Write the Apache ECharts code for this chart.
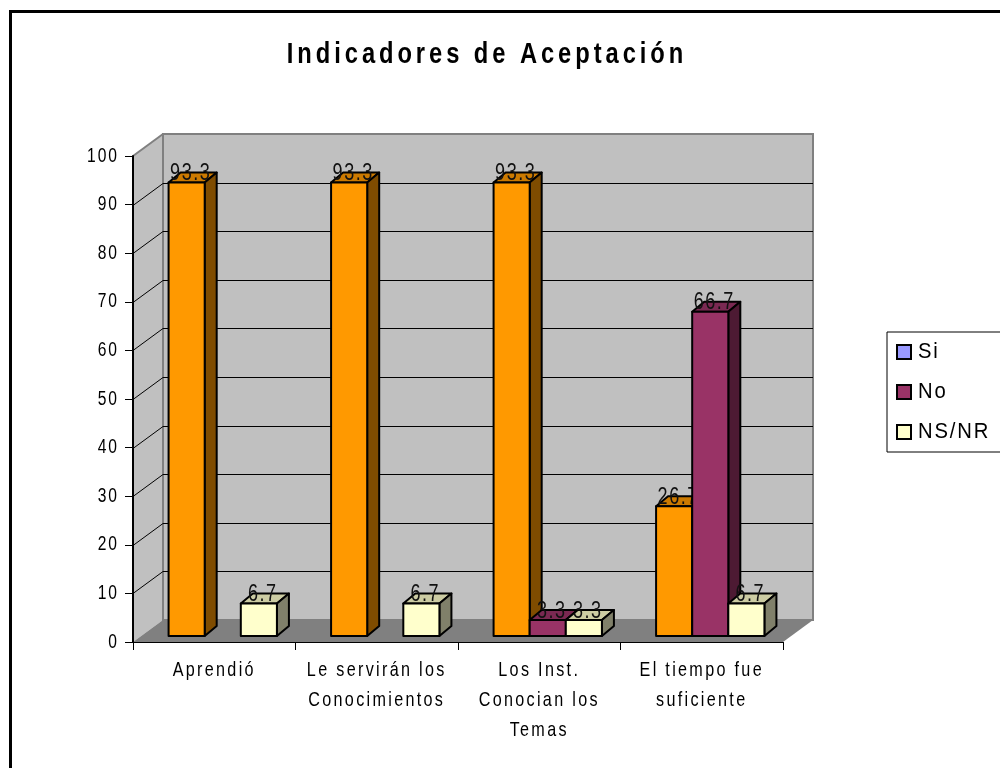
<!DOCTYPE html>
<html>
<head>
<meta charset="utf-8">
<title>Indicadores de Aceptación</title>
<script src="https://cdn.jsdelivr.net/npm/echarts@6/dist/echarts.min.js"></script>
<style>
    html, body { margin: 0; padding: 0; background: #fff; overflow: hidden; }
    #main { width: 1000px; height: 768px; }
</style>
</head>
<body>
<div id="main"></div>
<script>
var categories = ['Aprendió', 'Le servirán los\nConocimientos', 'Los Inst.\nConocian los\nTemas', 'El tiempo fue\nsuficiente'];
var seriesNames = ['Si', 'No', 'NS/NR'];
var siValues = [93.3, 93.3, 93.3, 26.7];
var noValues = [null, null, 3.3, 66.7];
var nsnrValues = [6.7, 6.7, 3.3, 6.7];
var yTicks = [0, 10, 20, 30, 40, 50, 60, 70, 80, 90, 100];

var FONT = '"Liberation Sans", Arial, sans-serif';

// the original text is tall, squeezed and widely tracked, echarts has no option for that
// font size -> [letter spacing, horizontal scale]
var textFit = {20: [2.5, 0.78], 21: [3, 0.77], 22: [2, 0.92], 24: [2, 0.75], 30: [5, 0.79]};
var origFillText = CanvasRenderingContext2D.prototype.fillText;
CanvasRenderingContext2D.prototype.fillText = function (text, x, y) {
    var size = parseInt(this.font.match(/(\d+)px/)[1], 10);
    var fit = textFit[size] || [0, 1];
    this.save();
    this.letterSpacing = fit[0] + 'px';
    this.translate(x, y);
    this.scale(fit[1], 1);
    origFillText.call(this, text, 0, 0);
    this.restore();
};

var faces = [
    {front: '#FF9900', top: '#CC7A00', side: '#7F4C00'},
    {front: '#993366', top: '#7A2952', side: '#4D1A33'},
    {front: '#FFFFCC', top: '#CCCCA3', side: '#80806A'}
];
var WALL_DX = 30, WALL_DY = 22;   // depth of the 3d box
var BAR_DX = 8.5, BAR_DY = 6;     // bars stand a bit inside the floor
var DEPTH_DX = 12, DEPTH_DY = 10; // depth of one bar

function crisp(v) {
    return Math.round(v) + 0.5;
}

function renderWall(params, api) {
    var band = api.size([1, 0])[0];
    var tick = api.value(0);
    var first = api.coord([0, 0]);
    var last = api.coord([categories.length - 1, 100]);
    var x0 = first[0] - band / 2, x1 = last[0] + band / 2;
    var yBottom = first[1], yTop = last[1];
    var children = [];

    if (params.dataIndex === 0) {
        children.push({type: 'polygon', shape: {points: [
            [x0, yTop], [x0 + WALL_DX, yTop - WALL_DY], [x0 + WALL_DX, yBottom - WALL_DY], [x0, yBottom]
        ]}, style: {fill: '#C0C0C0', stroke: null}});
        children.push({type: 'rect', shape: {
            x: x0 + WALL_DX, y: yTop - WALL_DY, width: x1 - x0, height: yBottom - yTop
        }, style: {fill: '#C0C0C0', stroke: '#808080', lineWidth: 2}});
        children.push({type: 'polyline', shape: {points: [
            [x0, yTop], [x0 + WALL_DX, yTop - WALL_DY]
        ]}, style: {fill: null, stroke: '#808080', lineWidth: 2}});
        children.push({type: 'polygon', shape: {points: [
            [x0, yBottom], [x1, yBottom], [x1 + WALL_DX, yBottom - WALL_DY], [x0 + WALL_DX, yBottom - WALL_DY]
        ]}, style: {fill: '#808080', stroke: null}});
    }
    if (tick > 0 && tick < 100) {
        var y = api.coord([0, tick])[1];
        children.push({type: 'polyline', shape: {points: [
            [x0, crisp(y)], [x0 + WALL_DX, crisp(y - WALL_DY)], [x1 + WALL_DX, crisp(y - WALL_DY)]
        ]}, style: {fill: null, stroke: '#000', lineWidth: 1}});
    }
    return {type: 'group', children: children};
}

function renderBar(params, api) {
    var value = api.value(1);
    if (!(value > 0)) {
        return null;
    }
    var band = api.size([1, 0])[0];
    var w = band / 4.5;
    var idx = params.seriesIndex - 1;
    var base = api.coord([api.value(0), 0]);
    var top = api.coord([api.value(0), value]);
    var l = base[0] - 1.5 * w + idx * w + BAR_DX;
    var r = l + w;
    var t = top[1] - BAR_DY;
    var b = base[1] - BAR_DY;
    var face = faces[idx];
    var line = {stroke: '#000', lineWidth: 2, lineJoin: 'round'};
    return {type: 'group', children: [
        {type: 'polygon', shape: {points: [
            [l, t], [l + DEPTH_DX, t - DEPTH_DY], [r + DEPTH_DX, t - DEPTH_DY], [r, t]
        ]}, style: Object.assign({fill: face.top}, line)},
        {type: 'polygon', shape: {points: [
            [r, t], [r + DEPTH_DX, t - DEPTH_DY], [r + DEPTH_DX, b - DEPTH_DY], [r, b]
        ]}, style: Object.assign({fill: face.side}, line)},
        {type: 'rect', shape: {x: l, y: t, width: w, height: b - t},
            style: Object.assign({fill: face.front}, line)},
        {type: 'text', style: {
            x: (l + r) / 2 + 4, y: t + 3, text: String(value),
            fill: '#111', font: '24px ' + FONT, align: 'center', verticalAlign: 'bottom'
        }}
    ]};
}

function barSeries(i, values, legendColor) {
    return {
        name: seriesNames[i],
        type: 'custom',
        renderItem: renderBar,
        itemStyle: {color: legendColor},
        data: values.map(function (v, k) { return [k, v]; })
    };
}

var chart = echarts.init(document.getElementById('main'), null, {renderer: 'canvas'});
var option = {
    animation: false,
    backgroundColor: '#fff',
    title: {
        text: 'Indicadores de Aceptación',
        left: 482, top: 35, textAlign: 'center',
        textStyle: {fontFamily: FONT, fontSize: 30, fontWeight: 'bold', color: '#000'}
    },
    graphic: [{
        type: 'rect', left: 8, top: 9, silent: true, z: -1,
        shape: {width: 1100, height: 900},
        style: {fill: null, stroke: '#000', lineWidth: 3}
    }],
    legend: {
        data: seriesNames,
        orient: 'vertical',
        left: 887, top: 332,
        padding: [9, 60, 9, 9],
        itemWidth: 14, itemHeight: 14, itemGap: 18,
        icon: 'rect',
        backgroundColor: '#fff',
        borderColor: '#000', borderWidth: 1, borderRadius: 0,
        selectedMode: false,
        itemStyle: {borderColor: '#000', borderWidth: 2},
        textStyle: {fontFamily: FONT, fontSize: 22, color: '#000', padding: [0, 0, 0, 2]}
    },
    grid: {left: 133, top: 156, width: 650, height: 486, containLabel: false},
    xAxis: {
        type: 'category',
        data: categories,
        z: 10,
        axisLine: {lineStyle: {color: '#000', width: 1}},
        axisTick: {show: true, length: 8, lineStyle: {color: '#000'}},
        axisLabel: {interval: 0, margin: 13, lineHeight: 30, fontFamily: FONT, fontSize: 21, color: '#000'}
    },
    yAxis: {
        type: 'value',
        min: 0, max: 100, interval: 10,
        z: 10,
        axisLine: {show: true, lineStyle: {color: '#000', width: 2}},
        axisTick: {show: true, length: 8, lineStyle: {color: '#000'}},
        splitLine: {show: false},
        axisLabel: {margin: 14, fontFamily: FONT, fontSize: 20, color: '#000'}
    },
    series: [
        {
            type: 'custom',
            name: 'paredes',
            renderItem: renderWall,
            data: yTicks.map(function (t) { return [t]; }),
            encode: {x: -1, y: -1},
            silent: true
        },
        barSeries(0, siValues, '#9999FF'),
        barSeries(1, noValues, '#993366'),
        barSeries(2, nsnrValues, '#FFFFCC')
    ]
};
chart.setOption(option);
</script>
</body>
</html>
